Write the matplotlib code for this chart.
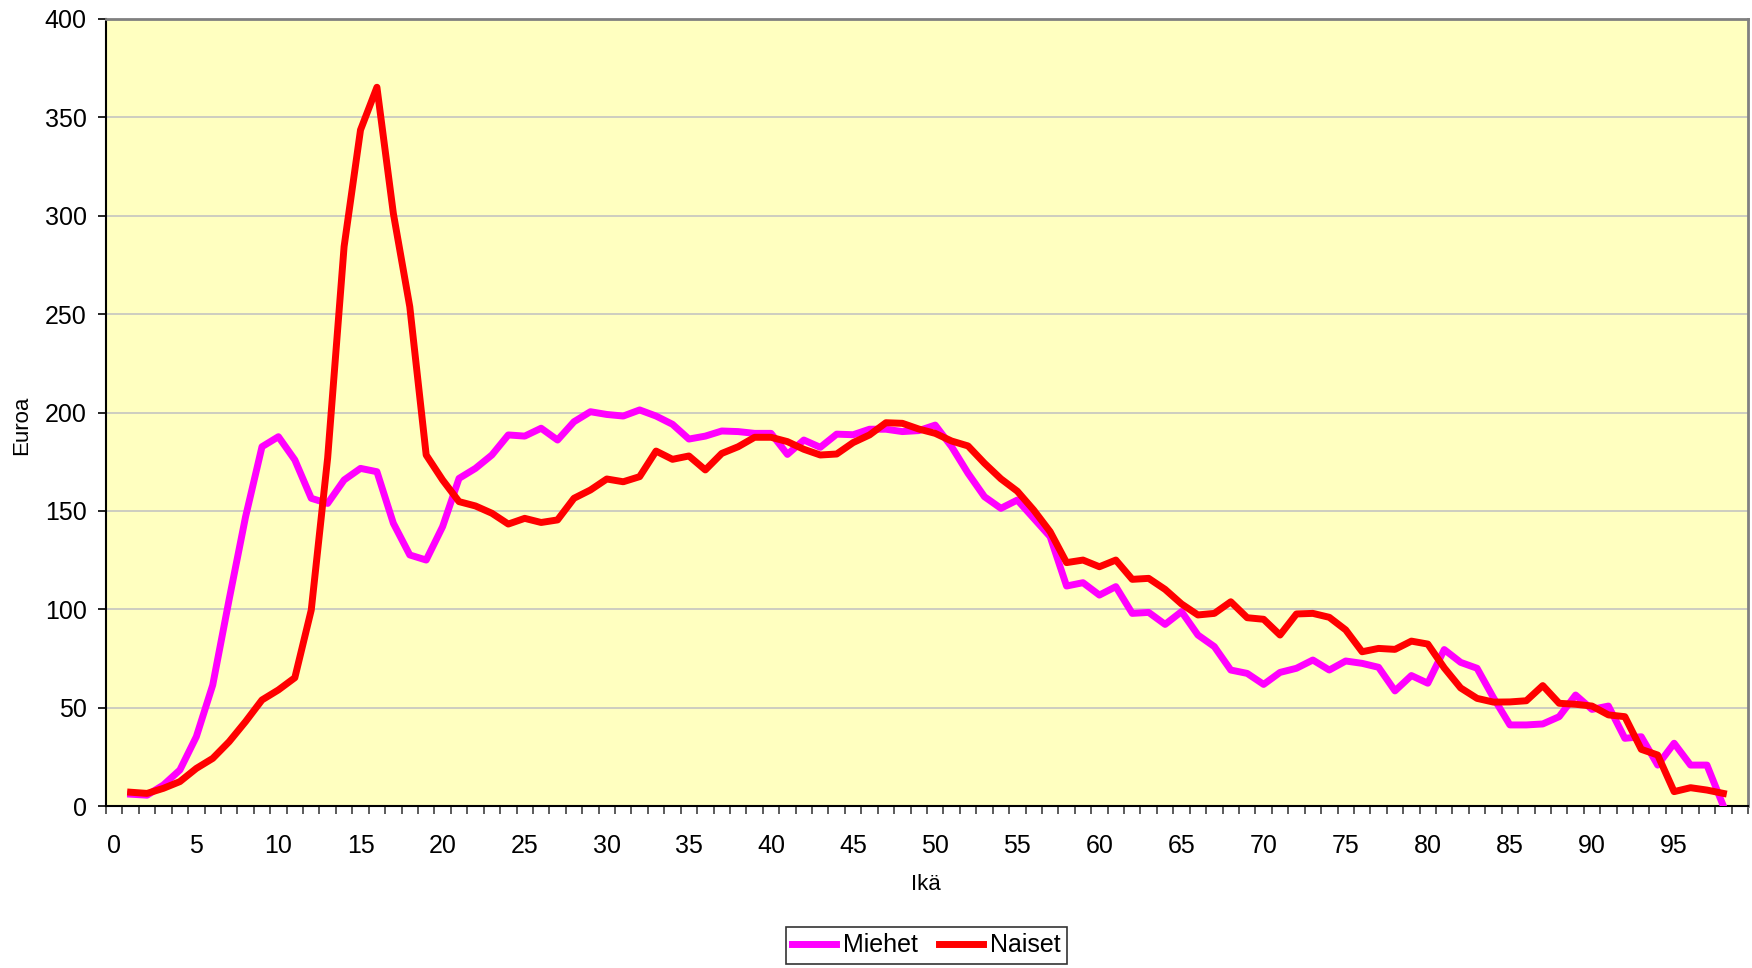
import matplotlib
matplotlib.use('Agg')
import matplotlib.pyplot as plt
import numpy as np

plt.rcParams['font.family'] = ['Liberation Sans', 'DejaVu Sans']

# Ikä 1..98
ages = list(range(1, 99))

miehet = [6, 5.5, 10.7, 18.3, 35.2, 61.5, 105, 147, 182.6, 187.7,
          175.9, 156.4, 153.8, 165.7, 171.6, 169.9, 143.7, 127.6, 125, 142,
          166.5, 171.6, 178.4, 188.6, 188, 192, 186, 195.3, 200.4, 199,
          198.2, 201.3, 198.2, 194, 186.5, 188, 190.6, 190.3, 189.4, 189.4,
          178.7, 186, 182.3, 189, 188.7, 191.5, 191.5, 190.3, 190.8, 193.6,
          182.6, 169.1, 157.2, 151.3, 155.5, 146.2, 136.9, 111.8, 113.5, 107.2,
          111.5, 97.9, 98.4, 92.3, 98.8, 86.9, 81, 69.1, 67.4, 61.8,
          67.9, 70, 74.2, 69.1, 73.7, 72.5, 70.5, 58.5, 66.3, 62.4,
          79.5, 73, 70, 55, 41.2, 41.2, 41.7, 45.4, 56.4, 49.1,
          50.8, 34.4, 35.2, 20.8, 31.9, 20.8, 20.8, 0]

naiset = [7, 6.4, 9, 12.4, 19.1, 24.2, 32.7, 42.9, 53.9, 59,
          65.2, 99.6, 177, 284.3, 343.6, 365.3, 301.2, 253.8, 178.4, 165.7,
          154.7, 152.5, 148.8, 143.3, 146.2, 144.1, 145.4, 156.4, 160.6, 166.2,
          164.8, 167.4, 180.4, 176.2, 177.9, 170.8, 179.2, 182.6, 187.4, 187.4,
          185.2, 181.3, 178.4, 178.9, 184.7, 188.6, 194.8, 194.5, 191.6, 189.4,
          185.5, 183, 174.2, 166.3, 160, 150.4, 139.4, 123.7, 125, 121.6,
          125, 115.2, 115.7, 110.1, 102.7, 97.1, 97.9, 103.8, 95.7, 94.9,
          86.9, 97.6, 97.9, 95.9, 89.5, 78.4, 80.1, 79.6, 83.8, 82.3,
          70.2, 60, 54.7, 52.8, 52.9, 53.5, 61.2, 52.2, 51.7, 50.8,
          46.3, 45.4, 28.8, 25.9, 7.3, 9.3, 8.1, 6.4]

xticks = list(range(0, 100, 5))
yticks = list(range(0, 401, 50))

fig = plt.figure(figsize=(17.52, 9.68), dpi=100)
ax = fig.add_axes([106 / 1752, 1 - 806 / 968, 1642 / 1752, 787 / 968])
ax.set_facecolor('#FFFFC0')

ax.plot(ages, miehet, color='#FF00FF', lw=5, label='Miehet', solid_joinstyle='round', zorder=3)
ax.plot(ages, naiset, color='#FF0000', lw=5, label='Naiset', solid_joinstyle='round', zorder=4)

ax.set_xlim(-0.5, 99.5)
ax.set_ylim(0, 400)
ax.set_yticks(yticks)
ax.set_yticklabels([str(v) for v in yticks], fontsize=18)
ax.set_xticks(xticks)
ax.set_xticklabels([str(v) for v in xticks], fontsize=18)
ax.set_xticks(np.arange(-0.5, 100, 1), minor=True)
ax.tick_params(axis='x', which='major', length=0, pad=20)
ax.tick_params(axis='x', which='minor', length=5.5, width=1.2, color='#404040', direction='out')
ax.tick_params(axis='y', length=6, width=1.2, pad=8, direction='out')
ax.yaxis.grid(True, color='#C0C0C0', lw=1.1)
ax.set_axisbelow(True)

for s in ['left', 'bottom']:
    ax.spines[s].set_color('black')
    ax.spines[s].set_linewidth(1.5)
for s in ['top', 'right']:
    ax.spines[s].set_color('#808080')
    ax.spines[s].set_linewidth(2)

fig.text(22 / 1752, 1 - 425 / 968, 'Euroa', rotation=90, fontsize=16, ha='center', va='center')
fig.text(926 / 1752, 1 - 884 / 968, 'Ikä', fontsize=16, ha='center', va='center')

leg = fig.legend(loc='center', bbox_to_anchor=(926.5 / 1752, 1 - 945.5 / 968), ncol=2,
                 fontsize=18, frameon=True, fancybox=False, handlelength=1.75,
                 handletextpad=0.3, columnspacing=0.85, borderpad=0.25, borderaxespad=0)
leg.get_frame().set_edgecolor('black')
leg.get_frame().set_linewidth(1.2)

fig.savefig('out.png', dpi=100)
